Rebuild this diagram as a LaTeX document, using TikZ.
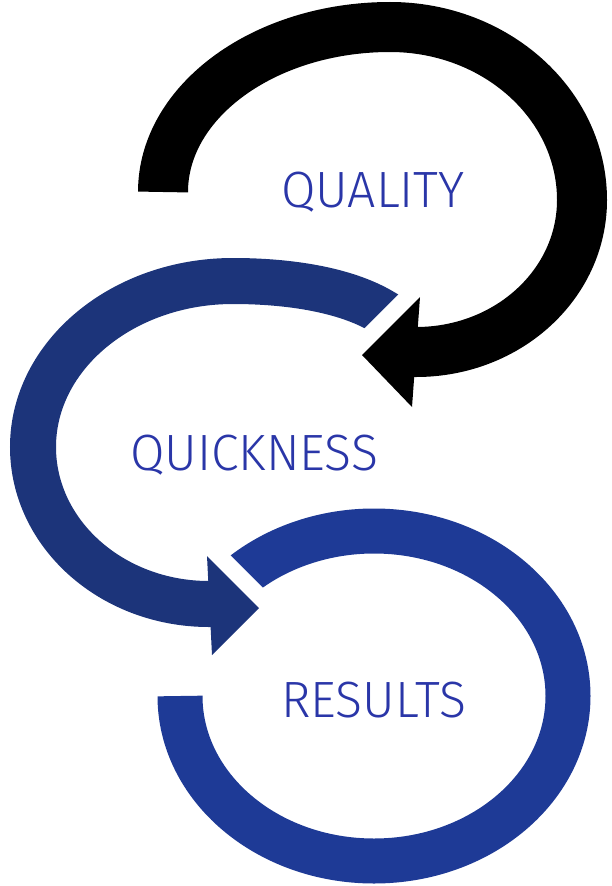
\documentclass[tikz,border=0pt]{standalone}
\usepackage{fontspec}
\setmainfont{Fira Sans Light}[FakeStretch=0.98]
\usetikzlibrary{positioning}
\definecolor{Marine}{RGB}{28,52,122}
\definecolor{Roi}{RGB}{30,58,150}
\definecolor{Encre}{RGB}{42,54,168}
\tikzset{
  band/.style={line width=#1, line cap=butt},
  gapline/.style={draw=white, line width=34pt, line join=miter},
  motcle/.style={font=\fontsize{51}{51}\selectfont, text=Encre, inner sep=0pt, anchor=base}
}

\begin{document}
\begin{tikzpicture}[x=1pt,y=-1pt]
\useasboundingbox (0,0) rectangle (611,886);
% results ring
\draw[band=45pt, Roi] (180,696) arc[start angle=180, end angle=-137, x radius=194, y radius=165];
% quickness arrow head, with a white gap round it
\coordinate (qtop) at (207,556);
\coordinate (qtip) at (259,608);
\coordinate (qbot) at (212,655);
\filldraw[fill=Marine, gapline] (qtop) -- (qtip) -- (qbot) -- cycle;
\fill[Marine] (qtop) -- (qtip) -- (qbot) -- cycle;
% quickness band
\draw[band=46pt, Marine] (398,321) -- (381,311) .. controls (345,290) and (290,281) .. (233,281)
  .. controls (122.6,281) and (33,355.4) .. (33,447)
  .. controls (33,533.7) and (111.8,604) .. (209,604) -- (216,604);
% quality arrow head
\coordinate (ktop) at (420,297);
\coordinate (ktip) at (362,355);
\coordinate (kbot) at (412,407);
\filldraw[fill=black, gapline] (ktop) -- (ktip) -- (kbot) -- cycle;
\fill[black] (ktop) -- (ktip) -- (kbot) -- cycle;
% quality band
\draw[band=50pt] (163,192) .. controls (163,101) and (265,27) .. (390,27)
  .. controls (496,27) and (582,104.5) .. (582,200)
  .. controls (582,284) and (508,352) .. (416,352) -- (410,352);
%
\node[motcle] (quality) at (373,207) {QUALITY};
\node[motcle] (quickness) at (254,470) {QUICKNESS};
\node[motcle] (results) at (373.5,717) {RESULTS};
%
\end{tikzpicture}
\end{document}
